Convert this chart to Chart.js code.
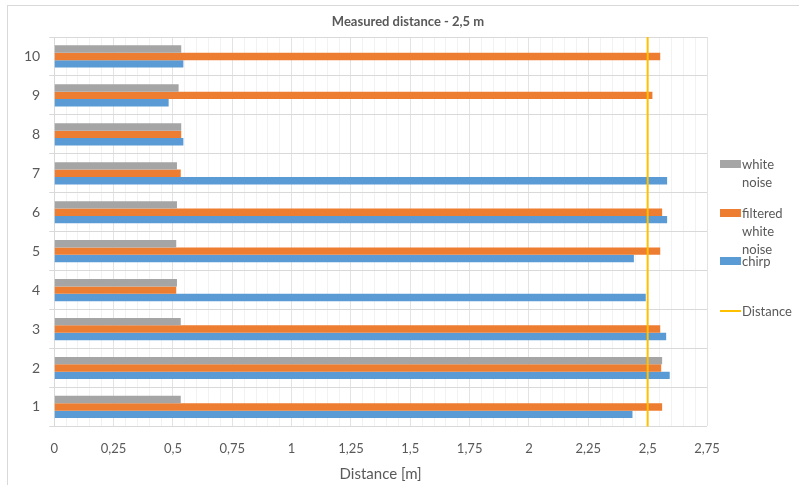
<!DOCTYPE html>
<html>
<head>
<meta charset="utf-8">
<script src="https://cdn.jsdelivr.net/npm/chart.js@4"></script>
<style>
  html, body { margin: 0; padding: 0; background: #fff; }
  body { width: 799px; height: 485px; position: relative; overflow: hidden; font-family: Lato, "Open Sans", sans-serif; }
  #frame { position: absolute; left: 7px; top: 5px; width: 800px; height: 490px; border: 1px solid #d9d9d9; box-sizing: border-box; }
  #wrap { position: absolute; left: 7px; top: 5px; width: 746px; height: 480px; }
  #title { position: absolute; left: 308px; width: 200px; top: 12px; text-align: center; color: #595959; font-size: 13px; font-weight: bold; line-height: 18px; white-space: nowrap; }
  .lg { position: absolute; left: 720px; color: #595959; font-size: 13px; line-height: 18px; }
  .lg .box { position: absolute; left: 0; width: 21px; height: 8px; }
  .lg .txt { position: absolute; left: 22px; white-space: nowrap; }
</style>
</head>
<body>
<div id="frame"></div>
<div id="wrap"><canvas id="distChart"></canvas></div>
<div id="title">Measured distance - 2,5 m</div>
<div id="legend"></div>
<script>
const categories = ['1','2','3','4','5','6','7','8','9','10'];
const whiteNoise = [0.533, 2.561, 0.533, 0.517, 0.514, 0.517, 0.517, 0.535, 0.524, 0.535];
const filteredNoise = [2.561, 2.557, 2.553, 0.514, 2.553, 2.561, 0.533, 0.535, 2.520, 2.553];
const chirp = [2.436, 2.593, 2.578, 2.492, 2.442, 2.582, 2.582, 0.544, 0.482, 0.544];
const realDistance = 2.5;
const xTicksMax = 2.75;

const seriesNames = [['white', 'noise'], ['filtered', 'white', 'noise'], ['chirp'], ['Distance']];
const seriesColors = ['#A5A5A5', '#ED7D31', '#5B9BD5', '#FFC000'];

// vertical "Distance" marker, placed with the x scale
const distanceLine = {
  id: 'distanceLine',
  afterDatasetsDraw(chart) {
    const x = chart.scales.x.getPixelForValue(realDistance);
    const area = chart.chartArea;
    const c = chart.ctx;
    c.save();
    c.strokeStyle = seriesColors[3];
    c.lineWidth = 2;
    c.beginPath();
    c.moveTo(x, area.top);
    c.lineTo(x, area.bottom);
    c.stroke();
    c.restore();
  }
};

window.addEventListener('load', ()=>{
  const ctx = document.getElementById('distChart');
  Chart.defaults.font.family = 'Lato, "Open Sans", sans-serif';

  const barSet = (i, data) => ({
    label: seriesNames[i].join(' '), data: data, backgroundColor: seriesColors[i],
    borderWidth: 0, categoryPercentage: 0.57, barPercentage: 1
  });

  new Chart(ctx, {
    type: 'bar',
    data: {
      labels: categories,
      datasets: [barSet(0, whiteNoise), barSet(1, filteredNoise), barSet(2, chirp)]
    },
    plugins: [distanceLine],
    options: {
      indexAxis: 'y',
      responsive: true, maintainAspectRatio: false, animation: false,
      layout: {padding: {left: 8, right: 46, top: 32, bottom: 2}},
      plugins: {
        legend: {display: false},
        tooltip: {enabled: false},
        title: {display: false}
      },
      scales: {
        x: {
          type: 'linear', min: 0, max: xTicksMax,
          ticks: {
            stepSize: 0.05, autoSkip: false, maxRotation: 0, minRotation: 0,
            color: '#595959', font: {size: 13}, padding: 15,
            callback: v => (Math.round(v * 100) % 25 === 0) ? String(Math.round(v * 100) / 100).replace('.', ',') : ''
          },
          grid: {
            color: c => (Math.round(c.tick.value * 100) % 25 === 0) ? '#e3e3e3' : '#f2f2f2',
            drawTicks: false
          },
          border: {display: false},
          title: {display: true, text: 'Distance [m]', color: '#595959', font: {size: 15}, padding: {top: -7, bottom: 0}}
        },
        y: {
          type: 'category', reverse: true,
          ticks: {color: '#595959', font: {size: 14}, padding: 9},
          grid: {color: '#d9d9d9', offset: true, tickLength: 5},
          border: {color: '#d9d9d9'}
        }
      }
    }
  });

  // legend on the right, with wrapped labels like the original
  const legend = document.getElementById('legend');
  const rows = [164, 213, 261, 311];
  seriesNames.forEach((name, i) => {
    const item = document.createElement('div');
    item.className = 'lg';
    item.style.top = (rows[i] - 9) + 'px';
    const box = document.createElement('div');
    box.className = 'box';
    box.style.background = seriesColors[i];
    if (i === 3) { box.style.height = '2px'; box.style.top = '8px'; } else { box.style.top = '5px'; }
    const txt = document.createElement('div');
    txt.className = 'txt';
    txt.innerHTML = name.join('<br>');
    item.appendChild(box);
    item.appendChild(txt);
    legend.appendChild(item);
  });
});
</script>
</body>
</html>
